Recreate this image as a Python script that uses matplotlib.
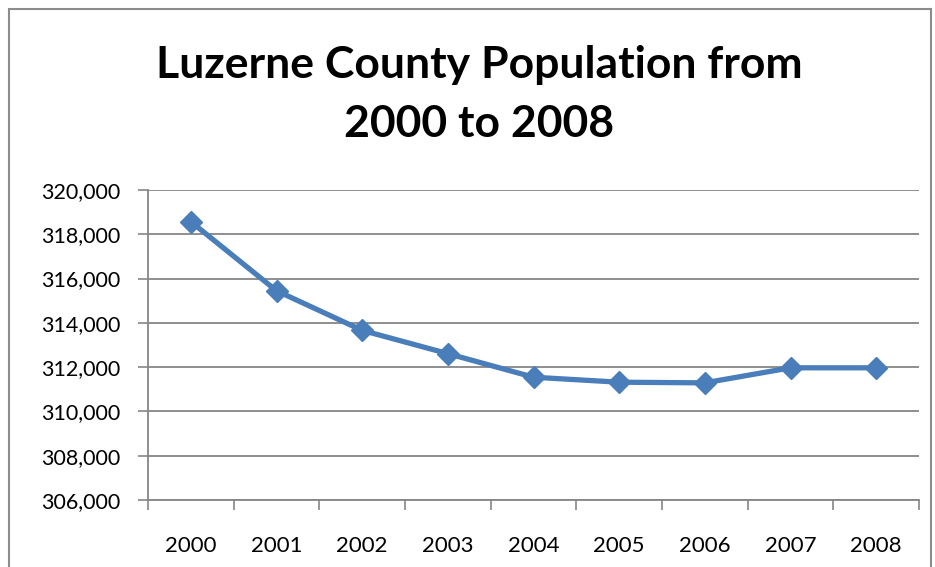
import matplotlib.pyplot as plt
from matplotlib.patches import Rectangle
from matplotlib.ticker import FuncFormatter, FixedLocator

years = ["2000", "2001", "2002", "2003", "2004", "2005", "2006", "2007", "2008"]
population = [318570, 315450, 313660, 312610, 311545, 311320, 311290, 311970, 311970]

plt.rcParams['font.family'] = ['Lato', 'DejaVu Sans']

fig = plt.figure(figsize=(9.35, 5.67), dpi=100)
ax = fig.add_axes([148 / 935, 67 / 567, 771 / 935, 310 / 567])

grid_color = '#868686'
ax.plot(range(len(years)), population, color='#4a7ebb', linewidth=3.8,
        marker='D', markersize=11, zorder=3)

ax.set_xlim(-0.5, len(years) - 0.5)
ax.set_ylim(306000, 320000)
ax.set_yticks(range(306000, 320001, 2000))
ax.yaxis.set_major_formatter(FuncFormatter(lambda v, p: f"{int(v):,}"))
ax.set_xticks(range(len(years)))
ax.set_xticklabels(years)
ax.xaxis.set_minor_locator(FixedLocator([i - 0.5 for i in range(len(years) + 1)]))
ax.tick_params(axis='x', which='major', length=0, pad=26, labelsize=16)
ax.tick_params(axis='x', which='minor', length=7, width=1.2, color=grid_color, direction='out')
ax.tick_params(axis='y', length=7, width=1.2, color=grid_color, labelsize=15.5, pad=13)
ax.grid(axis='y', color=grid_color, linewidth=1.3)
ax.set_axisbelow(True)
for side in ['top', 'right']:
    ax.spines[side].set_visible(False)
for side in ['left', 'bottom']:
    ax.spines[side].set_color(grid_color)
    ax.spines[side].set_linewidth(1.3)

title_x = 479 / 935
fig.text(title_x, 1 - 65 / 567, "Luzerne County Population from", ha='center', va='center',
         fontsize=32, fontweight='bold')
fig.text(title_x, 1 - 124 / 567, "2000 to 2008", ha='center', va='center',
         fontsize=32, fontweight='bold')

fig.patches.append(Rectangle((9 / 935, -0.05), 922 / 935, 1 - 9 / 567 + 0.05,
                             transform=fig.transFigure, fill=False,
                             edgecolor='#8c8c8c', linewidth=1.5))

fig.savefig("out.png", dpi=100)
